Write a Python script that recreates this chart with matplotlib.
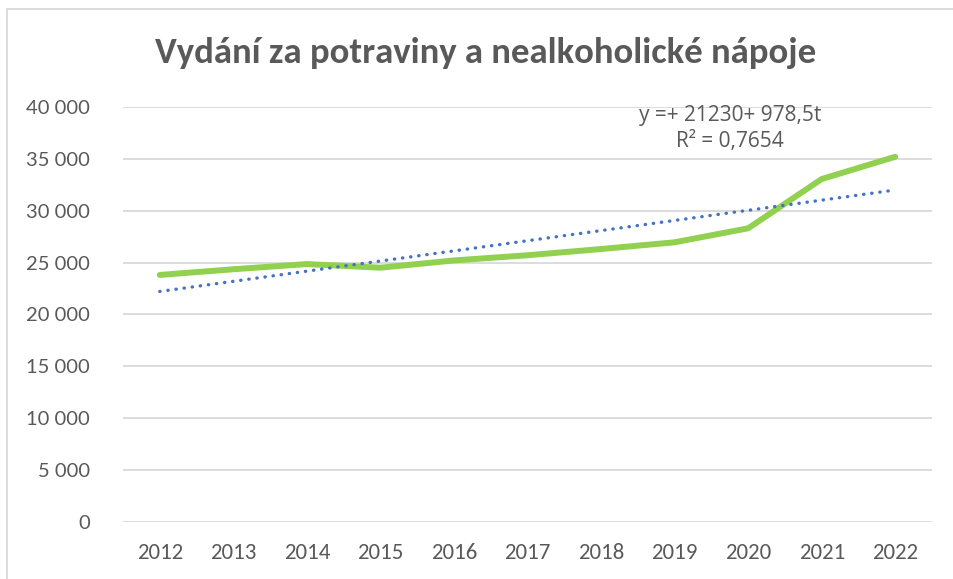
import matplotlib
matplotlib.use("Agg")
import matplotlib.pyplot as plt
from matplotlib.patches import Rectangle
import numpy as np

years = ["2012", "2013", "2014", "2015", "2016", "2017", "2018", "2019", "2020", "2021", "2022"]
spending = [23800, 24350, 24850, 24500, 25200, 25700, 26300, 26950, 28300, 33050, 35200]
trend_intercept = 21230
trend_slope = 978.5
yticks = [0, 5000, 10000, 15000, 20000, 25000, 30000, 35000, 40000]
ytick_labels = ["0", "5 000", "10 000", "15 000", "20 000", "25 000", "30 000", "35 000", "40 000"]
title = "Vydání za potraviny a nealkoholické nápoje"
eq_text = "y =+ 21230+ 978,5t\nR² = 0,7654"

fig = plt.figure(figsize=(9.54, 5.79), dpi=100)
ax = fig.add_axes([123 / 954, 1 - 521.7 / 579, (932 - 123) / 954, (521.7 - 107) / 579])

x = np.arange(len(years))
t = np.arange(1, len(years) + 1)
trend = trend_intercept + trend_slope * t

gray = "#595959"
ax.plot(x, spending, color="#92D050", lw=4.3, solid_capstyle="round", solid_joinstyle="round", zorder=3)
ax.plot(x, trend, color="#4472C4", lw=2.4, linestyle=(0, (0.1, 2.35)), dash_capstyle="round", zorder=4)

ax.set_xlim(-0.5, len(years) - 0.5)
ax.set_ylim(0, 40000)
ax.set_yticks(yticks)
ax.set_yticklabels(ytick_labels, fontfamily="Lato", fontsize=14.5, color=gray)
ax.set_xticks(x)
ax.set_xticklabels(years, fontfamily="Carlito", fontsize=16.5, color=gray)
ax.tick_params(axis="both", length=0)
ax.tick_params(axis="y", pad=24)
ax.tick_params(axis="x", pad=15)
ax.grid(axis="y", color="#D9D9D9", lw=1.3)
ax.set_axisbelow(True)
for s in ax.spines.values():
    s.set_visible(False)

fig.text(486 / 954, 1 - 53 / 579, title, ha="center", va="center",
         fontfamily="Carlito", fontweight="bold", fontsize=26.5, color=gray)
fig.text(730 / 954, 1 - 128.5 / 579, eq_text, ha="center", va="center",
         fontfamily="Open Sans", fontsize=15, color=gray, linespacing=1.25)

fig.patches.append(Rectangle((7 / 954, -0.1), 1.2, 1.1 - 9 / 579, transform=fig.transFigure,
                             fill=False, edgecolor="#D9D9D9", lw=1.3))

fig.savefig("out.png", dpi=100)
